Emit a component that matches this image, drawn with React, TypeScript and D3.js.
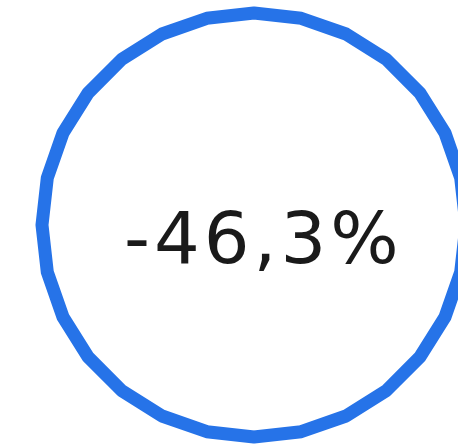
import React from "react";
import * as d3 from "d3";

const value: number[] = [-46.3];
const labelSuffix: string[] = ["%"];

const W = 458;
const H = 448;

export default function App() {
  const cx = 254;
  const cy = 225;
  const r = 212;
  const segments = 28;
  const angles = d3.range(segments).map((i) => (i / segments) * 2 * Math.PI);
  const line = d3
    .lineRadial<number>()
    .angle((a) => a)
    .radius(() => r)
    .curve(d3.curveLinearClosed);
  const fmt = (v: number) => v.toFixed(1).replace(".", ",") + labelSuffix[0];
  return (
    <svg
      width={W}
      height={H}
      style={{ position: "absolute", left: 0, top: 0, background: "#fff" }}
    >
      <g transform={`translate(${cx},${cy})`}>
        <path
          d={line(angles) || ""}
          fill="none"
          stroke="#2673e8"
          strokeWidth={13}
          strokeLinejoin="round"
        />
      </g>
      <text
        x={124}
        y={263}
        textAnchor="start"
        fontFamily="DejaVu Sans"
        fontSize={72}
        letterSpacing={4}
        fill="#1a1a1a"
      >
        {fmt(value[0])}
      </text>
    </svg>
  );
}
